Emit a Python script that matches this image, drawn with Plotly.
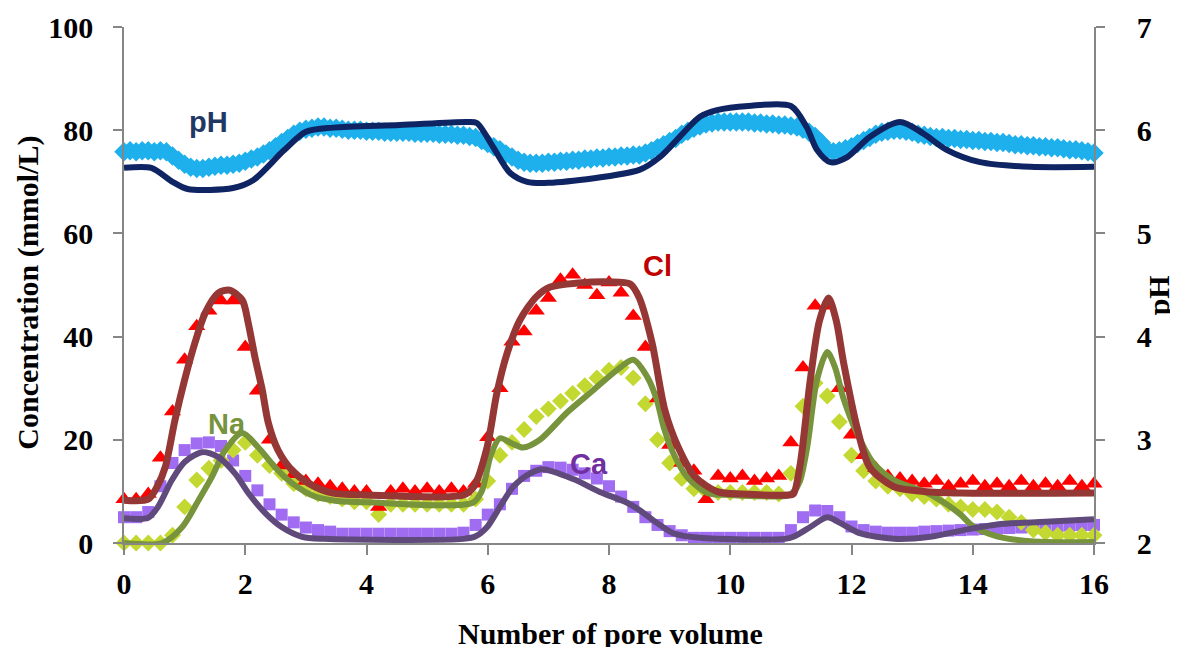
import plotly.graph_objects as go

# ---------------- data ----------------
x_ticks = [0, 2, 4, 6, 8, 10, 12, 14, 16]
y_ticks = [0, 20, 40, 60, 80, 100]
y2_ticks = [2, 3, 4, 5, 6, 7]

meas_step = 0.2  # pore volumes between measured samples (concentrations)
ph_step = 0.1    # pore volumes between measured pH samples

cl_meas = [8.5, 8.5, 9.5, 16.5, 25.5, 35.5, 42, 45, 47, 47,
           38, 29.5, 20, 15, 13.3, 12, 11.5, 11, 10.5, 10,
           10, 7, 10, 10.5, 10, 10.5, 10, 10.5, 10, 11.5,
           20.5, 30, 39, 41, 45, 47.5, 51, 52, 50, 48,
           50.5, 48.5, 44, 38, 28, 19, 15.5, 14, 8.5, 13,
           12.5, 13, 12, 12.5, 13, 19.5, 34, 46, 46, 30,
           21, 17, 14.5, 13, 12.5, 12, 11.5, 12, 11, 11.5,
           12, 11, 11.5, 11, 12, 11, 11.5, 11, 12, 11, 11.5]

na_meas = [0, 0, 0, 0, 1.5, 7, 12.2, 14.5, 16, 18,
           19.5, 17, 15, 13.5, 11.5, 10.5, 9.5, 9, 8.5, 8,
           8, 5.5, 7.5, 7.5, 7.5, 7.5, 7.5, 7.5, 7.5, 8.5,
           12, 17, 19.5, 22, 24.5, 26, 27.5, 29, 30.5, 32,
           33.5, 34, 32, 27, 20, 15.5, 12.5, 10.5, 10, 9.8,
           9.8, 9.8, 9.8, 9.8, 9.5, 13.5, 26.5, 31, 28.5, 23.5,
           17, 14, 12, 11, 10.5, 9.5, 9, 8.5, 7.5, 7,
           6.5, 6.5, 6, 5, 4, 2.5, 2, 1.5, 1.5, 1.5, 1.5]

ca_meas = [5, 5, 6, 11, 15.5, 18, 19.3, 19.5, 18.8, 16,
           13, 10.2, 7.5, 5.5, 4, 3, 2.5, 2.2, 1.8, 1.8,
           1.8, 1.8, 1.8, 1.8, 1.8, 1.8, 1.8, 1.8, 2, 3.5,
           5.5, 7.5, 10.5, 13, 14, 14.7, 14.6, 14.2, 13.5, 12.5,
           11, 9, 7, 5, 3.5, 2.3, 1.5, 1, 1, 1,
           1, 1, 1, 1, 1, 2.5, 5, 6.3, 6.2, 5,
           3.2, 2.5, 2.2, 2, 2, 2, 2.2, 2.3, 2.4, 2.5,
           2.6, 2.7, 2.8, 2.9, 3, 3.1, 3.2, 3.3, 3.4, 3.5, 3.5]

ph_meas = [5.79, 5.80, 5.79, 5.80, 5.80, 5.79, 5.80, 5.79, 5.75, 5.71,
           5.67, 5.64, 5.63, 5.63, 5.64, 5.65, 5.66, 5.66, 5.67, 5.68,
           5.70, 5.72, 5.74, 5.77, 5.80, 5.84, 5.88, 5.92, 5.96, 5.99,
           6.01, 6.02, 6.03, 6.03, 6.02, 6.02, 6.01, 6.00, 6.00, 6.00,
           5.99, 5.99, 5.99, 5.98, 5.98, 5.98, 5.98, 5.98, 5.97, 5.97,
           5.97, 5.97, 5.96, 5.96, 5.96, 5.95, 5.95, 5.94, 5.93, 5.90,
           5.87, 5.84, 5.81, 5.77, 5.74, 5.71, 5.69, 5.68, 5.68, 5.68,
           5.69, 5.69, 5.70, 5.70, 5.71, 5.71, 5.72, 5.72, 5.73, 5.73,
           5.74, 5.74, 5.75, 5.75, 5.76, 5.76, 5.78, 5.80, 5.83, 5.86,
           5.89, 5.92, 5.96, 5.99, 6.02, 6.04, 6.06, 6.07, 6.08, 6.08,
           6.08, 6.08, 6.08, 6.08, 6.07, 6.07, 6.06, 6.06, 6.05, 6.05,
           6.04, 6.03, 6.01, 5.98, 5.94, 5.88, 5.81, 5.79, 5.80, 5.82,
           5.84, 5.87, 5.90, 5.93, 5.96, 5.98, 5.99, 6.00, 6.00, 5.99,
           5.98, 5.96, 5.95, 5.94, 5.93, 5.93, 5.92, 5.92, 5.91, 5.91,
           5.90, 5.90, 5.89, 5.89, 5.88, 5.88, 5.87, 5.86, 5.86, 5.85,
           5.85, 5.84, 5.84, 5.83, 5.83, 5.82, 5.81, 5.81, 5.80, 5.79, 5.78]

# model curves (x, value) knots
cl_model_x = [0, 0.4, 0.55, 0.68, 0.84, 1.0, 1.17, 1.34, 1.55, 1.74, 1.95, 2.05, 2.16, 2.28,
              2.38, 2.54, 2.77, 3.04, 3.43, 4.0, 5.6, 5.77, 5.99, 6.15, 6.32, 6.53, 6.8,
              7.03, 7.5, 8.0, 8.35, 8.5, 8.71, 8.92, 9.14, 9.42, 9.8, 10.2, 10.95, 11.04,
              11.15, 11.32, 11.47, 11.62, 11.75, 11.87, 12.1, 12.3, 12.7, 13.2, 13.8, 16]
cl_model_y = [8.3, 8.5, 11, 14.7, 23.8, 31.6, 38.8, 44.6, 48.4, 49, 47.1, 42.6, 36, 29.7,
              23.3, 18, 14.1, 11.6, 9.7, 9.3, 9.3, 10.9, 18.6, 29, 36.8, 43.2, 47.7,
              49.6, 50.4, 50.6, 50.2, 47.5, 38.8, 25.8, 18.6, 12.8, 9.9, 9.5, 9.3, 9.5,
              15, 31.6, 43, 47.5, 43, 34.9, 22, 14.7, 10.9, 10, 9.7, 9.7]

na_model_x = [0, 0.63, 0.96, 1.23, 1.45, 1.67, 1.95, 2.21, 2.49, 2.77, 3.15, 3.48, 4.0, 5.75,
              5.9, 6.05, 6.2, 6.4, 6.58, 6.86, 7.3, 7.74, 8.13, 8.4, 8.63, 8.79, 8.9, 9.06,
              9.29, 9.62, 10.0, 10.95, 11.05, 11.15, 11.27, 11.43, 11.6, 11.73, 11.86,
              12.09, 12.36, 12.7, 13.25, 13.57, 13.8, 14.0, 14.4, 15.0, 16]
na_model_y = [0, 0, 3.1, 8.3, 12.8, 18, 21.3, 18.6, 14.7, 11.6, 9, 8.2, 7.9, 7.8,
              10, 17, 20.3, 19.3, 18.5, 20, 25.2, 29.6, 33.5, 35.5, 32.2, 27.7, 22.5, 17.4,
              12.8, 9.7, 9.3, 9.2, 10, 12, 18.6, 31.6, 37, 34, 28.3,
              21.3, 15.5, 12.2, 9.7, 7.5, 5.5, 3.3, 1.3, 0.3, 0.2]

ca_model_x = [0, 0.4, 0.56, 0.79, 1.0, 1.29, 1.55, 1.83, 2.05, 2.33, 2.6, 2.94, 3.3, 5.6,
              5.8, 5.99, 6.2, 6.42, 6.7, 6.9, 7.41, 7.85, 8.3, 8.5, 8.79, 9.06, 9.5, 10.9,
              11.04, 11.32, 11.6, 11.81, 12.14, 12.7, 13.3, 13.85, 14.4, 15.2, 16]
ca_model_y = [4.8, 4.9, 7, 12.2, 15.7, 17.6, 16.7, 13.5, 9.7, 5.8, 3.1, 1.2, 0.8, 0.8,
              1.3, 3.1, 7, 10.9, 13.5, 14.3, 12.4, 9.9, 7.8, 6.4, 3.9, 1.9, 1, 0.8,
              1.2, 3.1, 5, 3.9, 1.9, 0.8, 1.2, 2.5, 3.6, 4.1, 4.6]

ph_model_x = [0, 0.45, 0.8, 1.05, 1.8, 2.13, 2.63, 3.0, 3.45, 4.55, 5.66, 5.82, 6.09, 6.37,
              6.65, 7.0, 8.5, 8.84, 9.22, 9.5, 9.78, 10.3, 11.0, 11.26, 11.43, 11.65, 11.93,
              12.3, 12.8, 13.18, 13.57, 14.12, 14.95, 16]
ph_model_y = [5.635, 5.635, 5.50, 5.43, 5.44, 5.515, 5.80, 5.985, 6.025, 6.05, 6.08, 6.07,
              5.835, 5.585, 5.50, 5.49, 5.615, 5.74, 5.97, 6.13, 6.195, 6.235, 6.235, 6.03,
              5.81, 5.69, 5.74, 5.935, 6.08, 5.97, 5.81, 5.69, 5.645, 5.645]

labels = ["pH", "Cl", "Na", "Ca"]
label_x = [1.4, 8.8, 1.7, 7.67]
label_y = [81.6, 53.7, 23.1, 15.3]
label_colors = ["#1F3864", "#C00000", "#77933C", "#7030A0"]

x_meas = [round(i * meas_step, 3) for i in range(len(cl_meas))]
x_na = [round(i * meas_step, 3) for i in range(len(na_meas))]
x_ca = [round(i * meas_step, 3) for i in range(len(ca_meas))]
x_ph = [round(i * ph_step, 3) for i in range(len(ph_meas))]

# ---------------- figure ----------------
fig = go.Figure()

fig.add_trace(go.Scatter(x=x_ph, y=ph_meas, mode="markers", yaxis="y2", cliponaxis=False,
                         marker=dict(symbol="diamond", size=15, color="#1EB0EC",
                                     line=dict(width=0))))
fig.add_trace(go.Scatter(x=x_ca, y=ca_meas, mode="markers", cliponaxis=False,
                         marker=dict(symbol="square", size=12, color="#9F6CF2",
                                     line=dict(width=0))))
fig.add_trace(go.Scatter(x=x_na, y=na_meas, mode="markers", cliponaxis=False,
                         marker=dict(symbol="diamond", size=13, color="#C4D832",
                                     line=dict(width=0))))
fig.add_trace(go.Scatter(x=x_meas, y=cl_meas, mode="markers", cliponaxis=False,
                         marker=dict(symbol="triangle-up", size=15, color="#FF0000",
                                     line=dict(width=0))))

fig.add_trace(go.Scatter(x=na_model_x, y=na_model_y, mode="lines", cliponaxis=False,
                         line=dict(color="#77933C", width=6, shape="spline", smoothing=0.8)))
fig.add_trace(go.Scatter(x=ca_model_x, y=ca_model_y, mode="lines", cliponaxis=False,
                         line=dict(color="#604A7B", width=6, shape="spline", smoothing=0.8)))
fig.add_trace(go.Scatter(x=cl_model_x, y=cl_model_y, mode="lines", cliponaxis=False,
                         line=dict(color="#953735", width=7, shape="spline", smoothing=0.8)))
fig.add_trace(go.Scatter(x=ph_model_x, y=ph_model_y, mode="lines", yaxis="y2", cliponaxis=False,
                         line=dict(color="#0F2463", width=6, shape="spline", smoothing=0.8)))

tick_font = dict(family="Liberation Serif, Times New Roman, serif", size=30,
                 color="black", weight="bold")
title_font = dict(family="Liberation Serif, Times New Roman, serif", size=30,
                  color="black", weight="bold")
axis_grey = "#868686"

# the page body has an 8px margin, so the figure is offset by (8, 8) in the window
fig.update_layout(
    width=1178, height=647,
    margin=dict(l=116, r=92, t=19, b=112, autoexpand=False),
    paper_bgcolor="white", plot_bgcolor="white",
    showlegend=False,
    xaxis=dict(range=[0, 16], tickvals=x_ticks, ticktext=[str(v) for v in x_ticks],
               automargin=False,
               showgrid=False, zeroline=False, showline=True, linecolor=axis_grey,
               linewidth=1.5, ticks="outside", ticklen=10, tickcolor=axis_grey,
               tickwidth=1.5, tickfont=tick_font, ticklabelstandoff=3),
    yaxis=dict(range=[0, 100], tickvals=y_ticks, ticktext=[str(v) for v in y_ticks],
               automargin=False,
               showgrid=False, zeroline=False, showline=True, linecolor=axis_grey,
               linewidth=1.5, ticks="outside", ticklen=9, tickcolor=axis_grey,
               tickwidth=1.5, tickfont=tick_font, ticklabelstandoff=14),
    yaxis2=dict(range=[2, 7], tickvals=y2_ticks, ticktext=[str(v) for v in y2_ticks],
                overlaying="y", side="right", automargin=False,
                showgrid=False, zeroline=False, showline=True, linecolor=axis_grey,
                linewidth=1.5, ticks="outside", ticklen=9, tickcolor=axis_grey,
                tickwidth=1.5, tickfont=tick_font, ticklabelstandoff=26),
)

# axis titles
fig.add_annotation(text="Number of pore volume", xref="paper", yref="paper",
                   x=0.502, y=-0.176, showarrow=False, font=title_font,
                   xanchor="center", yanchor="middle")
fig.add_annotation(text="Concentration (mmol/L)", xref="paper", yref="paper",
                   x=-0.099, y=0.485, showarrow=False, font=title_font, textangle=-90,
                   xanchor="center", yanchor="middle")
fig.add_annotation(text="pH", xref="paper", yref="paper",
                   x=1.066, y=0.48, showarrow=False, font=title_font, textangle=-90,
                   xanchor="center", yanchor="middle")

# series labels
for t, lx, ly, c in zip(labels, label_x, label_y, label_colors):
    fig.add_annotation(text=t, x=lx, y=ly, xref="x", yref="y", showarrow=False,
                       font=dict(family="Liberation Sans, Arial, sans-serif", size=29,
                                 color=c, weight="bold"),
                       xanchor="center", yanchor="middle")

fig.write_html("out.html")
